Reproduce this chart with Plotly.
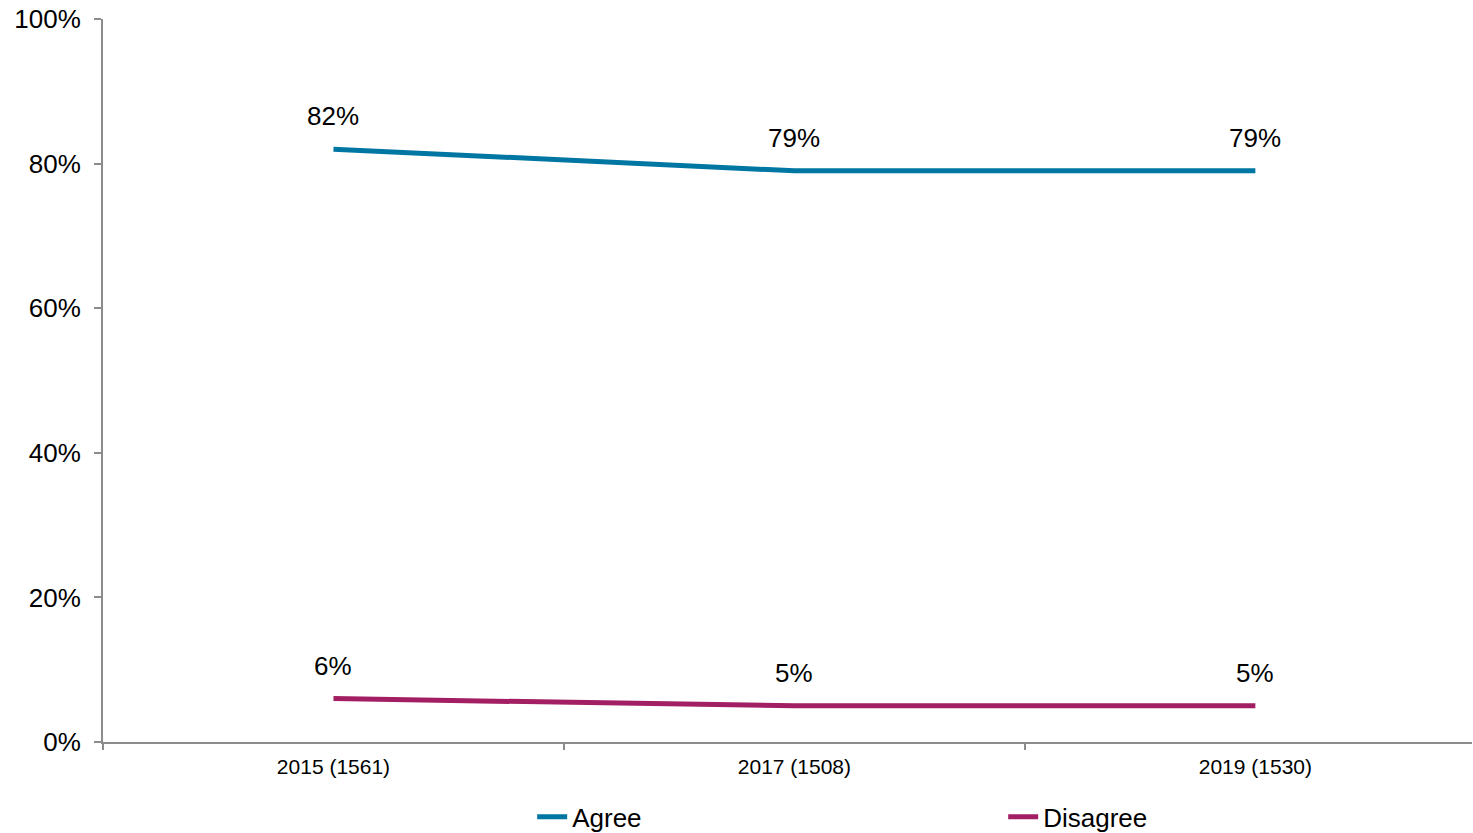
import plotly.graph_objects as go

# Data
years = ["2015 (1561)", "2017 (1508)", "2019 (1530)"]
agree = [82, 79, 79]
disagree = [6, 5, 5]
y_ticks = [0, 20, 40, 60, 80, 100]

BLUE = "#0076A3"
MAGENTA = "#A21F63"
AXIS = "#8C8C8C"
FONT = "Liberation Sans, Arial, sans-serif"

x = list(range(len(years)))

fig = go.Figure()
fig.add_trace(go.Scatter(x=x, y=agree, mode="lines", name="Agree",
                         line=dict(color=BLUE, width=5), hoverinfo="skip"))
fig.add_trace(go.Scatter(x=x, y=disagree, mode="lines", name="Disagree",
                         line=dict(color=MAGENTA, width=5), hoverinfo="skip"))

# Data labels above each point
annotations = []
for series in (agree, disagree):
    for xi, v in zip(x, series):
        annotations.append(dict(
            x=xi, y=v, xref="x", yref="y", text=f"{v}%",
            showarrow=False, yshift=33,
            font=dict(family=FONT, size=26, color="black"),
        ))

fig.update_layout(
    width=1473, height=833,
    margin=dict(l=103, r=1, t=19, b=91, autoexpand=False),
    paper_bgcolor="white", plot_bgcolor="white",
    font=dict(family=FONT, color="black"),
    annotations=annotations,
    xaxis=dict(
        range=[-0.5, 2.47],
        tickvals=x, ticktext=years,
        ticks="", showgrid=False, zeroline=False,
        showline=True, linecolor=AXIS, linewidth=2,
        tickfont=dict(size=21),
        ticklabelstandoff=5,
        automargin=False,
        minor=dict(tickmode="array", tickvals=[-0.5, 0.5, 1.5],
                   ticks="outside", ticklen=6, tickcolor=AXIS, tickwidth=1.5),
    ),
    yaxis=dict(
        range=[0, 100],
        tickvals=y_ticks, ticktext=[f"{v}%" for v in y_ticks],
        ticks="outside", ticklen=7, tickcolor=AXIS, tickwidth=1.5,
        showgrid=False, zeroline=False,
        showline=True, linecolor=AXIS, linewidth=2,
        tickfont=dict(size=26),
        ticklabelstandoff=8,
        automargin=False,
    ),
    showlegend=True,
    legend=dict(
        orientation="h", x=0.3135, xanchor="left", y=-0.071, yanchor="top",
        font=dict(size=26), entrywidth=426, entrywidthmode="pixels",
        bgcolor="rgba(0,0,0,0)",
    ),
)

# remove the default page margin so the figure fills the window
fig.write_html("out.html", config={"displayModeBar": False},
               post_script="document.body.style.margin='0';")
